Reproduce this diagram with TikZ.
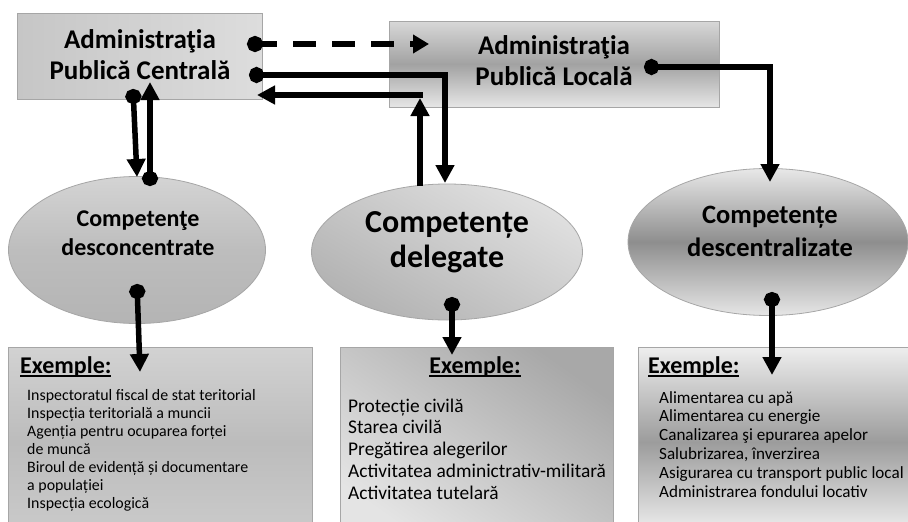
\documentclass[tikz,border=0pt]{standalone}
\usepackage{fontspec}
\setmainfont{Carlito}
\usetikzlibrary{arrows.meta,shapes.geometric}
\newcommand\myul[1]{\setbox0\hbox{#1}\rlap{\rule[-4pt]{\wd0}{2.4pt}}\box0}
\definecolor{apcA}{HTML}{C6C6C6}
\definecolor{apcB}{HTML}{DDDDDD}
\definecolor{aplT}{HTML}{D8D8D8}
\definecolor{aplM}{HTML}{A2A2A2}
\definecolor{aplB}{HTML}{E6E6E6}
\definecolor{eaT}{HTML}{D4D4D4}
\definecolor{eaM}{HTML}{BDBDBD}
\definecolor{eaB}{HTML}{B4B4B4}
\definecolor{ebT}{HTML}{E0E0E0}
\definecolor{ebB}{HTML}{B2B2B2}
\definecolor{ecT}{HTML}{E8E8E8}
\definecolor{ecM}{HTML}{8E8E8E}
\definecolor{ecB}{HTML}{E6E6E6}
\definecolor{baT}{HTML}{D2D2D2}
\definecolor{baM}{HTML}{BCBCBC}
\definecolor{baB}{HTML}{CBCBCB}
\definecolor{bbT}{HTML}{A8A8A8}
\definecolor{bbB}{HTML}{E4E4E4}
\definecolor{bcT}{HTML}{EEEEEE}
\definecolor{bcM}{HTML}{9C9C9C}
\definecolor{bcB}{HTML}{F2F2F2}
\definecolor{edge}{HTML}{A6A6A6}
\begin{document}
\begin{tikzpicture}[x=1pt,y=-1pt,
  panel/.style={draw=edge, line width=0.8pt, rectangle, inner sep=0pt},
  oval/.style={draw=edge, line width=0.8pt, ellipse, inner sep=0pt},
  arr/.style={line width=5.5pt, -{Triangle[length=18pt,width=18pt]}},
  dotarr/.style={line width=5.5pt, {Circle[length=15pt,width=16pt]}-{Triangle[length=18pt,width=18pt]}},
  dasharr/.style={line width=5.5pt, dash pattern=on 23pt off 16pt, dash phase=6pt, {Circle[length=16pt,width=16pt]}-{Triangle[length=16pt,width=18pt]}},
  ttl/.style={font=\fontsize{27}{31}\selectfont\bfseries, align=center, inner sep=0pt},
  extitle/.style={font=\fontsize{24}{28}\selectfont\bfseries, inner sep=0pt},
  item/.style={anchor=base west, inner sep=0pt}]
\useasboundingbox (0,0) rectangle (908,522);
\fill[white] (0,0) rectangle (908,522);

% top boxes
\node[panel, left color=apcA, right color=apcB, minimum width=245pt, minimum height=86pt] (apc) at (139.5,56) {};
\node[ttl] (apct) at (140,55) {Administraţia\\Publică Centrală};
\node[panel, top color=aplT, bottom color=aplB, middle color=aplM, minimum width=330pt, minimum height=86pt] (apl) at (554,64) {};
\node[ttl] (aplt) at (554,61) {Administraţia\\Publică Locală};

% ellipses
\node[oval, top color=eaT, bottom color=eaB, middle color=eaM, minimum width=257pt, minimum height=147pt] (e1) at (137,250) {};
\node[font=\fontsize{24}{29}\selectfont\bfseries, align=center, inner sep=0pt] (e1t) at (138,233) {Competenţe\\desconcentrate};
\node[oval, top color=ebT, bottom color=ebB, shading angle=-30, minimum width=271pt, minimum height=136pt] (e2) at (447,252) {};
\node[font=\fontsize{32}{35}\selectfont\bfseries, align=center, inner sep=0pt] (e2t) at (447,242) {Competențe\\delegate};
\node[oval, top color=ecT, bottom color=ecB, middle color=ecM, minimum width=280pt, minimum height=147pt] (e3) at (768,242) {};
\node[font=\fontsize{26.5}{33}\selectfont\bfseries, align=center, inner sep=0pt] (e3t) at (770,231) {Competențe\\descentralizate};

% bottom boxes
\node[panel, top color=baT, bottom color=baB, middle color=baM, minimum width=304pt, minimum height=190pt] (b1) at (160,442) {};
\node[panel, top color=bbT, bottom color=bbB, shading angle=-35, minimum width=273pt, minimum height=190pt] (b2) at (476.5,442) {};
\node[panel, top color=bcT, bottom color=bcB, middle color=bcM, minimum width=270pt, minimum height=190pt] (b3) at (773,442) {};

\node[extitle, anchor=base west] (x1) at (20,373) {\myul{Exemple:}};
\node[extitle, anchor=base] (x2) at (475,373) {\myul{Exemple:}};
\node[extitle, anchor=base west] (x3) at (648,373) {\myul{Exemple:}};

\foreach \t [count=\i] in {Inspectoratul fiscal de stat teritorial,Inspecția teritorială a muncii,Agenția pentru ocuparea forței,de muncă,Biroul de evidență și documentare,a populației,Inspecția ecologică}
  \node[item, font=\fontsize{15.9}{18}\selectfont] (ia\i) at (27,{400+18*(\i-1)}) {\t};
\foreach \t [count=\i] in {Protecție civilă,Starea civilă,Pregătirea alegerilor,Activitatea adminictrativ-militară,Activitatea tutelară}
  \node[item, font=\fontsize{19.4}{22}\selectfont] (ib\i) at (348,{412+21.75*(\i-1)}) {\t};
\foreach \t [count=\i] in {Alimentarea cu apă,Alimentarea cu energie,Canalizarea şi epurarea apelor,{Salubrizarea, înverzirea},Asigurarea cu transport public local,Administrarea fondului locativ}
  \node[item, font=\fontsize{17.1}{19}\selectfont] (ic\i) at (659,{403+18.8*(\i-1)}) {\t};

% connector points
\coordinate (s1) at (247,44);
\coordinate (t1) at (429,44);
\coordinate (s2) at (249,75);
\coordinate (t2) at (445,183);
\coordinate (s3) at (420,186);
\coordinate (t3) at (420,98);
\coordinate (c3) at (422.75,95);
\coordinate (t3b) at (257,95);
\coordinate (s4) at (133,89);
\coordinate (t4) at (137,177);
\coordinate (s5) at (150,186);
\coordinate (t5) at (150,82);
\coordinate (s6) at (644,67);
\coordinate (t6) at (770,182);
\coordinate (s7) at (137,284);
\coordinate (t7) at (140,372);
\coordinate (s8) at (452,297);
\coordinate (t8) at (452,355);
\coordinate (s9) at (772,292);
\coordinate (t9) at (772,375);

\draw[dasharr] (s1) -- (t1);
\draw[dotarr] (s2) -| (t2);
\draw[arr] (s3) -- (t3);
\draw[arr] (c3) -- (t3b);
\draw[dotarr] (s4) -- (t4);
\draw[dotarr] (s5) -- (t5);
\draw[dotarr] (s6) -| (t6);
\draw[dotarr] (s7) -- (t7);
\draw[dotarr] (s8) -- (t8);
\draw[dotarr] (s9) -- (t9);
\end{tikzpicture}
\end{document}
